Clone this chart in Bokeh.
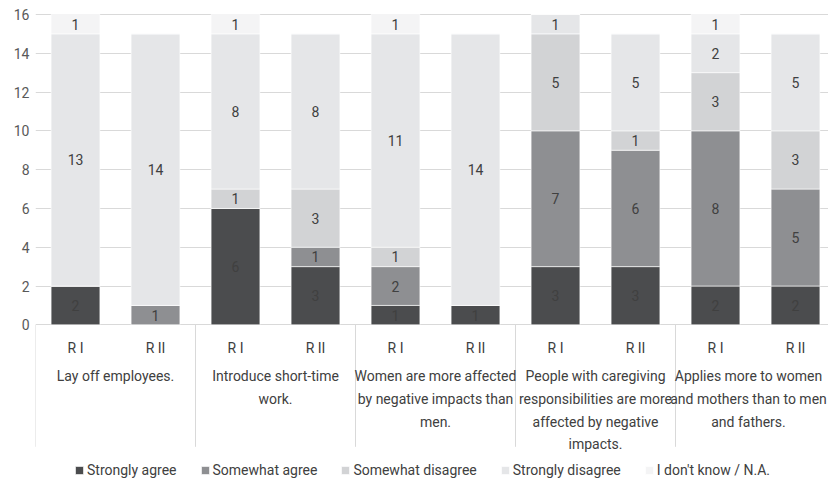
import numpy as np
from bokeh.plotting import figure
from bokeh.models import ColumnDataSource, FixedTicker, Range1d
from bokeh.core.properties import value
from bokeh.embed import file_html
from bokeh.resources import INLINE

groups = [
    "Lay off employees.",
    "Introduce short-time\nwork.",
    "Women are more affected\nby negative impacts than\nmen.",
    "People with caregiving\nresponsibilities are more\naffected by negative\nimpacts.",
    "Applies more to women\nand mothers than to men\nand fathers.",
]
rounds = ["R I", "R II"]
series = ["Strongly agree", "Somewhat agree", "Somewhat disagree",
          "Strongly disagree", "I don't know / N.A."]
strongly_agree    = [2, 0, 6, 3, 1, 1, 3, 3, 2, 2]
somewhat_agree    = [0, 1, 0, 1, 2, 0, 7, 6, 8, 5]
somewhat_disagree = [0, 0, 1, 3, 1, 0, 5, 1, 3, 3]
strongly_disagree = [13, 14, 8, 8, 11, 14, 1, 5, 2, 5]
dont_know         = [1, 0, 1, 0, 1, 0, 0, 0, 1, 0]
y_ticks = [0, 2, 4, 6, 8, 10, 12, 14, 16]

colors = ["#4b4c4e", "#8e8f92", "#d2d3d5", "#e5e6e8", "#f4f4f5"]
FONT = "Roboto"
FS = "14px"
TXT = "#404040"

keys = ["sa", "swa", "swd", "sd", "dk"]
vals = [strongly_agree, somewhat_agree, somewhat_disagree, strongly_disagree, dont_know]
n = len(strongly_agree)
xs = np.arange(n) + 0.5
data = {"x": xs}
for k, v in zip(keys, vals):
    data[k] = v
source = ColumnDataSource(data)

W, H = 828, 482
LEFT = 35
y0, y1 = -8.13, 16.72
ppu = H / (y1 - y0)

p = figure(width=W, height=H, output_backend="svg", toolbar_location=None,
           x_range=Range1d(0, (W - LEFT) / 80.0), y_range=Range1d(y0, y1),
           min_border=0, min_border_left=LEFT)
p.outline_line_color = None
p.xaxis.visible = False
p.xgrid.visible = False
p.ygrid.ticker = FixedTicker(ticks=y_ticks)
p.ygrid.grid_line_color = "#d9d9d9"
p.yaxis.ticker = FixedTicker(ticks=y_ticks)
p.yaxis.bounds = (0, 16)
p.yaxis.axis_line_color = None
p.yaxis.major_tick_line_color = None
p.yaxis.minor_tick_line_color = None
p.yaxis.major_tick_out = 0
p.yaxis.major_tick_in = 0
p.yaxis.major_label_standoff = 6
p.yaxis.major_label_text_font = FONT
p.yaxis.major_label_text_font_size = FS
p.yaxis.major_label_text_color = "#595959"

p.vbar_stack(keys, x="x", width=0.61, source=source, color=colors,
             line_color="white", line_width=0.6, legend_label=series)

# value labels
lx, ly, lt = [], [], []
bottoms = np.zeros(n)
for v in vals:
    arr = np.array(v, dtype=float)
    for i in range(n):
        if arr[i] > 0:
            lx.append(xs[i]); ly.append(bottoms[i] + arr[i] / 2); lt.append(str(int(arr[i])))
    bottoms += arr
p.text(x=lx, y=ly, text=lt, text_align="center", text_baseline="middle",
       text_font=value(FONT), text_font_size=FS, text_color=TXT)

# separators below the axis
sep_x = [2 * i for i in range(len(groups) + 1)]
p.segment(x0=sep_x, y0=[0] * len(sep_x), x1=sep_x, y1=[-122 / ppu] * len(sep_x),
          line_color="#d9d9d9", line_width=1)

# round labels
p.text(x=list(xs), y=[0] * n, text=[rounds[i % 2] for i in range(n)],
       text_align="center", text_baseline="middle", y_offset=23,
       text_font=value(FONT), text_font_size=FS, text_color=TXT)
# group labels
gx = [2 * i + 1 for i in range(len(groups))]
p.text(x=gx[:-1], y=[0] * (len(groups) - 1), text=groups[:-1], text_align="center",
       text_baseline="top", y_offset=43, text_line_height=1.43,
       text_font=value(FONT), text_font_size=FS, text_color=TXT)
# last group label nudged left so it stays inside the page
p.text(x=gx[-1:], y=[0], text=groups[-1:], text_align="center",
       text_baseline="top", y_offset=43, x_offset=-7, text_line_height=1.43,
       text_font=value(FONT), text_font_size=FS, text_color=TXT)

leg = p.legend[0]
leg.orientation = "horizontal"
leg.location = (39, 4)
leg.padding = 0
leg.margin = 0
leg.spacing = 23
leg.label_standoff = 3
leg.glyph_width = 10
leg.glyph_height = 10
leg.label_height = 10
leg.border_line_color = None
leg.background_fill_alpha = 0
leg.label_text_font = FONT
leg.label_text_font_size = FS
leg.label_text_color = TXT

open("out.html", "w").write(file_html(p, INLINE))
